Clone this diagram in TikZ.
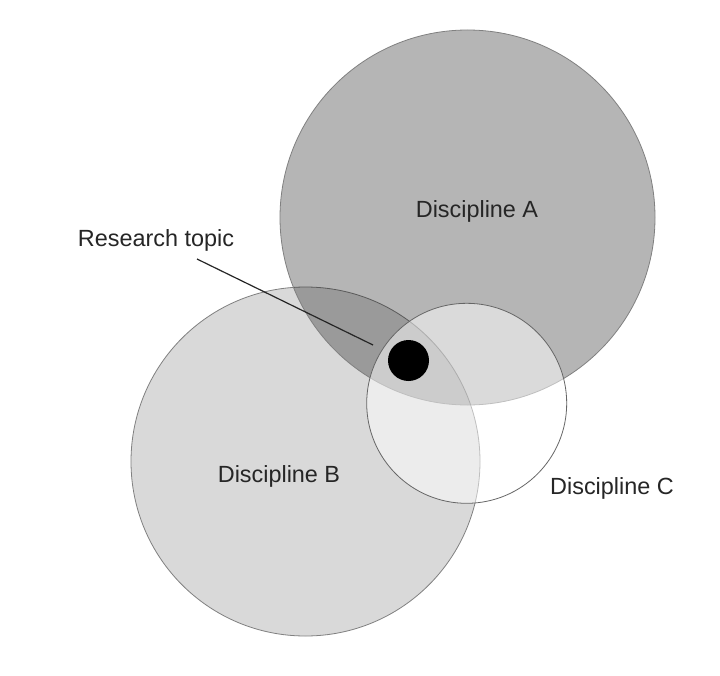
\documentclass[tikz,border=0pt]{standalone}
\usepackage{fontspec}
\setmainfont{Liberation Sans}
\begin{document}
\begin{tikzpicture}[x=1bp,y=-1bp,
  disc/.style={circle,inner sep=0pt,outer sep=0pt,draw=black!50,line width=0.8bp},
  lab/.style={inner sep=0pt,font=\fontsize{23.5}{28}\selectfont,text=black!85}]
\useasboundingbox (0,0) rectangle (720,676);
\fill[white] (0,0) rectangle (720,676);
\node[disc,minimum size=349bp,fill=black,fill opacity=0.15] (B) at (305.5,461.5) {};
\node[disc,minimum size=375bp,fill=black,fill opacity=0.29] (A) at (467.5,217.5) {};
\node[disc,minimum size=200bp,fill=white,fill opacity=0.5,draw=black!60] (C) at (466.7,403.3) {};
\node[circle,fill=black,inner sep=0pt,minimum size=41bp] (dot) at (408.5,360.5) {};
\node[lab] (la) at (477,211.5) {Discipline A};
\node[lab] (lb) at (279,476.5) {Discipline B};
\node[lab] (lc) at (612,488.5) {Discipline C};
\node[lab] (lt) at (156,240.5) {Research topic};
\coordinate (s) at (197,259);
\coordinate (t) at (373,345);
\draw[line width=1.2bp,black!85] (s) -- (t);
\end{tikzpicture}
\end{document}
